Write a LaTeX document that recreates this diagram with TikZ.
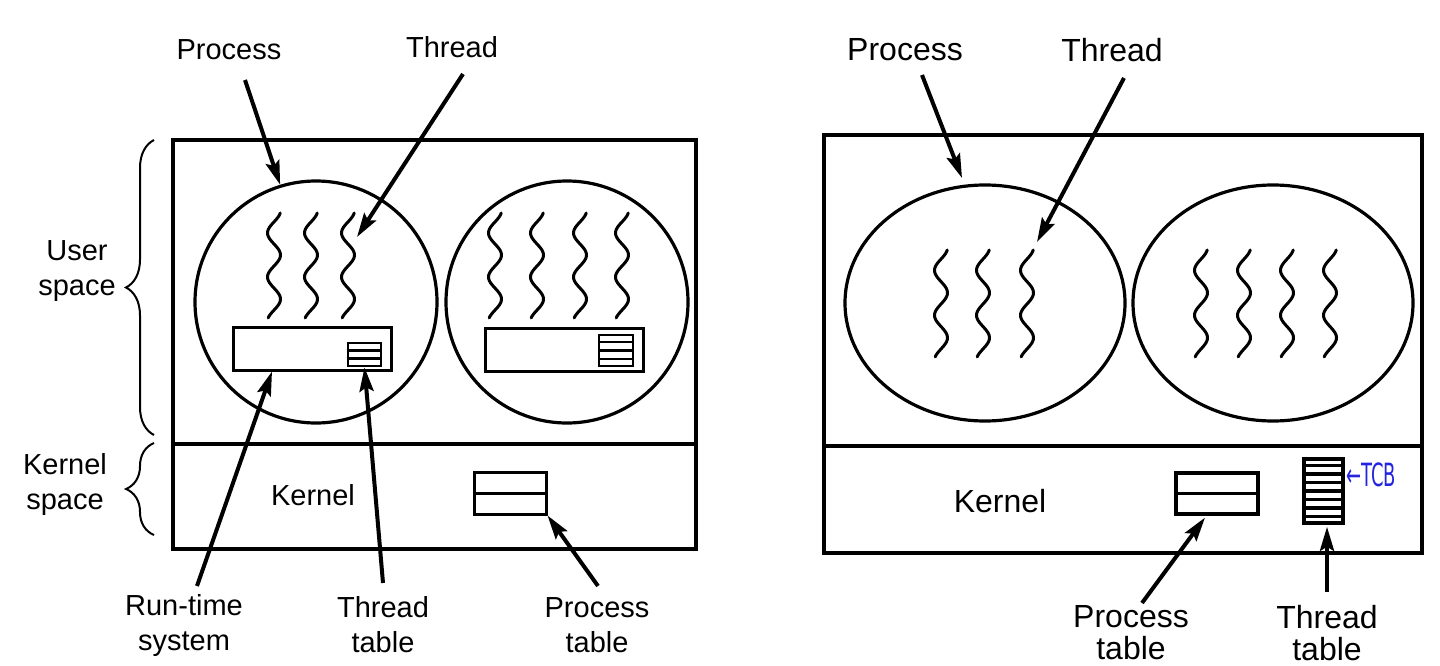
\documentclass[tikz,border=0pt]{standalone}
\usepackage{fontspec}
\setmainfont{Liberation Sans}
\newfontfamily\djv{DejaVu Sans}
\usetikzlibrary{arrows.meta,decorations.pathreplacing,shapes.geometric,calc}
\definecolor{tcbblue}{RGB}{35,35,225}
\newcommand\mythread[3]{\draw[thr] plot[domain=0:1,samples=60,smooth,variable=\t] ({#1-6.5*sin(90+(\t-0.19)*857)},{#2+#3*\t});}
\newcommand\mytable[7]{%
 \node[draw, line width=#7, inner sep=0pt, minimum width=#4pt, minimum height=#5pt] (#1) at (#2,#3) {};
 \pgfmathtruncatemacro\nr{#6-1}
 \foreach \k in {1,...,\nr} {\draw[line width=#7] ($(#1.north west)!{\k/#6}!(#1.south west)$) -- ($(#1.north east)!{\k/#6}!(#1.south east)$);}
}
\begin{document}
\begin{tikzpicture}[x=1pt,y=-1pt,
 frame/.style={line width=3.2pt},
 arr/.style={line width=4pt,-{Stealth[length=24pt,width=14pt,inset=4pt]}},
 thr/.style={line width=3pt, line cap=round},
 lblL/.style={font=\fontsize{29}{35}\selectfont, align=center, inner sep=0pt},
 lblR/.style={font=\fontsize{32}{32}\selectfont, align=center, inner sep=0pt},
 brc/.style={line width=2pt, decorate, decoration={brace, amplitude=28pt}},
 ]
\useasboundingbox (0,0) rectangle (1440,666);

% ---------------- LEFT DIAGRAM ----------------
\draw[frame] (173,140) rectangle (696,549);
\draw[frame] (173,444) -- (696,444);
\node[draw, circle, line width=3.2pt, minimum size=242pt, inner sep=0pt] (pL1) at (316,302) {};
\node[draw, circle, line width=3.2pt, minimum size=242pt, inner sep=0pt] (pL2) at (567,302) {};
\foreach \cx in {274,311,348} {\mythread{\cx}{213}{105}}
\foreach \cx in {495,537,580,622} {\mythread{\cx}{213}{105}}
\node[draw, line width=3pt, inner sep=0pt, minimum width=158pt, minimum height=43pt] (rtL1) at (312,348.5) {};
\node[draw, line width=3pt, inner sep=0pt, minimum width=158pt, minimum height=43pt] (rtL2) at (564,349.5) {};
\mytable{ttL1}{364.5}{354.5}{33}{23}{3}{2.8pt}
\mytable{ttL2}{616}{350.5}{34}{31}{4}{2.8pt}
\mytable{ptL}{510}{493}{72}{42}{2}{3pt}
\node[lblL] (kernL) at (313,495) {Kernel};

% braces and side labels
\draw[brc] (154,435) -- (154,140);
\draw[brc] (154,535) -- (154,443);
\node[lblL] (us) at (77,271) {User\\space};
\node[lblL] (ks) at (65,484) {Kernel\\space};

% top labels and arrows
\node[lblL] (procL) at (229,50) {Process};
\node[lblL] (thrL) at (452,47) {Thread};
\coordinate (procLs) at (245,80);
\coordinate (thrLs) at (463,74);
\coordinate (thrLt) at (357,237);
\draw[arr] (procLs) -- (pL1.107);
\draw[arr] (thrLs) -- (thrLt);

% bottom labels and arrows
\node[lblL] (rts) at (184,625) {Run-time\\system};
\node[lblL] (ttLlbl) at (383,625) {Thread\\table};
\node[lblL] (ptLlbl) at (597,625) {Process\\table};
\coordinate (rtsS) at (197,586);
\coordinate (ttLS) at (383,583);
\coordinate (ptLS) at (598,586);
\draw[arr] (rtsS) -- (rtL1.south west -| 272,0);
\draw[arr] (ttLS) -- (ttL1.south);
\draw[arr] (ptLS) -- (ptL.south east);

% ---------------- RIGHT DIAGRAM ----------------
\draw[frame] (824,135) rectangle (1422,553);
\draw[frame] (824,446) -- (1422,446);
\node[draw, ellipse, line width=3.2pt, minimum width=280pt, minimum height=236pt, inner sep=0pt] (pR1) at (985,303) {};
\node[draw, ellipse, line width=3.2pt, minimum width=280pt, minimum height=236pt, inner sep=0pt] (pR2) at (1273,303) {};
\foreach \cx in {941,983,1027} {\mythread{\cx}{250}{107}}
\foreach \cx in {1201,1244,1287,1330} {\mythread{\cx}{250}{107}}
\node[lblR] (kernR) at (1000,501) {Kernel};
\mytable{ptR}{1217}{493.5}{82}{41}{2}{3.2pt}
\mytable{ttR}{1323.5}{491}{39}{64}{8}{3.6pt}
\node[font=\djv\fontsize{32}{34}\selectfont, text=tcbblue, inner sep=0pt, xscale=0.56] (tcb) at (1371,475) {←TCB};

\node[lblR] (procR) at (905,50) {Process};
\node[lblR] (thrR) at (1112,50) {Thread};
\coordinate (procRs) at (922,75);
\coordinate (procRt) at (962,178);
\coordinate (thrRs) at (1124,78);
\coordinate (thrRt) at (1037,242);
\draw[arr] (procRs) -- (procRt);
\draw[arr] (thrRs) -- (thrRt);

\node[lblR] (ptRlbl) at (1131,633) {Process\\table};
\node[lblR] (ttRlbl) at (1327,633) {Thread\\table};
\coordinate (ptRS) at (1142,603);
\coordinate (ttRS) at (1327,592);
\draw[arr] (ptRS) -- ($(ptR.south)+(-12,2)$);
\draw[arr] (ttRS) -- ($(ttR.south)+(3.5,2)$);
\end{tikzpicture}
\end{document}
